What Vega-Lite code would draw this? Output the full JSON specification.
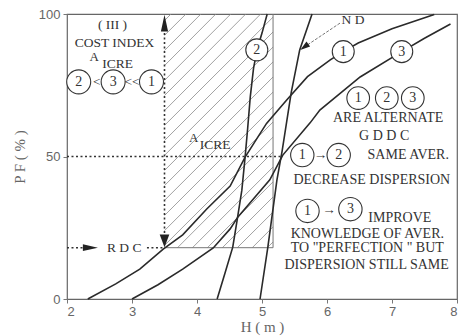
{
  "$schema": "https://vega.github.io/schema/vega-lite/v6.json",
  "width": 390,
  "height": 285,
  "autosize": {"type": "none"},
  "padding": {"left": 67, "top": 14, "right": 1, "bottom": 37},
  "background": "white",
  "config": {
    "view": {"stroke": "#666", "strokeWidth": 1.2},
    "axis": {
      "grid": false,
      "domain": false,
      "tickColor": "#777",
      "tickSize": 4,
      "labelFont": "Liberation Sans",
      "labelFontSize": 13,
      "labelColor": "#666",
      "titleFont": "Liberation Serif",
      "titleFontSize": 15,
      "titleFontWeight": "normal",
      "titleColor": "#666"
    }
  },
  "resolve": {"scale": {"size": "independent", "shape": "independent"}},
  "datasets": {
    "curves": [
      {"curve": "1", "i": 0, "H": 2.32, "PF": 0},
      {"curve": "1", "i": 1, "H": 2.75, "PF": 5.3},
      {"curve": "1", "i": 2, "H": 3.12, "PF": 10.5},
      {"curve": "1", "i": 3, "H": 3.48, "PF": 17.5},
      {"curve": "1", "i": 4, "H": 3.78, "PF": 22.5},
      {"curve": "1", "i": 5, "H": 4.15, "PF": 31.6},
      {"curve": "1", "i": 6, "H": 4.51, "PF": 39.6},
      {"curve": "1", "i": 7, "H": 4.74, "PF": 49.8},
      {"curve": "1", "i": 8, "H": 5.07, "PF": 61.6},
      {"curve": "1", "i": 9, "H": 5.38, "PF": 69.8},
      {"curve": "1", "i": 10, "H": 5.7, "PF": 78},
      {"curve": "1", "i": 11, "H": 6.05, "PF": 83.9},
      {"curve": "1", "i": 12, "H": 6.25, "PF": 86.8},
      {"curve": "1", "i": 13, "H": 6.48, "PF": 89.8},
      {"curve": "1", "i": 14, "H": 7.0, "PF": 94.8},
      {"curve": "1", "i": 15, "H": 7.65, "PF": 99.8},
      {"curve": "3", "i": 0, "H": 3.0, "PF": 0},
      {"curve": "3", "i": 1, "H": 3.4, "PF": 5},
      {"curve": "3", "i": 2, "H": 3.78, "PF": 10.5},
      {"curve": "3", "i": 3, "H": 4.25, "PF": 17.9},
      {"curve": "3", "i": 4, "H": 4.51, "PF": 24.6},
      {"curve": "3", "i": 5, "H": 4.63, "PF": 28.8},
      {"curve": "3", "i": 6, "H": 5.12, "PF": 41.8},
      {"curve": "3", "i": 7, "H": 5.32, "PF": 50.5},
      {"curve": "3", "i": 8, "H": 5.74, "PF": 61.8},
      {"curve": "3", "i": 9, "H": 5.89, "PF": 66.3},
      {"curve": "3", "i": 10, "H": 6.51, "PF": 77.9},
      {"curve": "3", "i": 11, "H": 7.15, "PF": 86.8},
      {"curve": "3", "i": 12, "H": 7.5, "PF": 91.5},
      {"curve": "3", "i": 13, "H": 7.9, "PF": 96.5},
      {"curve": "2", "i": 0, "H": 4.31, "PF": 0},
      {"curve": "2", "i": 1, "H": 4.43, "PF": 9},
      {"curve": "2", "i": 2, "H": 4.55, "PF": 18.2},
      {"curve": "2", "i": 3, "H": 4.62, "PF": 28},
      {"curve": "2", "i": 4, "H": 4.69, "PF": 38.2},
      {"curve": "2", "i": 5, "H": 4.74, "PF": 49.8},
      {"curve": "2", "i": 6, "H": 4.78, "PF": 60},
      {"curve": "2", "i": 7, "H": 4.82, "PF": 71},
      {"curve": "2", "i": 8, "H": 4.87, "PF": 81},
      {"curve": "2", "i": 9, "H": 4.93, "PF": 88},
      {"curve": "2", "i": 10, "H": 5.0, "PF": 93.3},
      {"curve": "2", "i": 11, "H": 5.08, "PF": 100},
      {"curve": "ND", "i": 0, "H": 4.97, "PF": 0},
      {"curve": "ND", "i": 1, "H": 5.09, "PF": 18.2},
      {"curve": "ND", "i": 2, "H": 5.23, "PF": 41.8},
      {"curve": "ND", "i": 3, "H": 5.31, "PF": 52},
      {"curve": "ND", "i": 4, "H": 5.45, "PF": 72.5},
      {"curve": "ND", "i": 5, "H": 5.58, "PF": 87.4},
      {"curve": "ND", "i": 6, "H": 5.77, "PF": 100}
    ],
    "hatch": [
      {"H": 3.5, "PF": 97.7, "H2": 3.6, "PF2": 100},
      {"H": 3.5, "PF": 92.5, "H2": 3.83, "PF2": 100},
      {"H": 3.5, "PF": 87.2, "H2": 4.06, "PF2": 100},
      {"H": 3.5, "PF": 81.9, "H2": 4.29, "PF2": 100},
      {"H": 3.5, "PF": 76.7, "H2": 4.52, "PF2": 100},
      {"H": 3.5, "PF": 71.4, "H2": 4.75, "PF2": 100},
      {"H": 3.5, "PF": 66.1, "H2": 4.98, "PF2": 100},
      {"H": 3.5, "PF": 60.9, "H2": 5.17, "PF2": 98.9},
      {"H": 3.5, "PF": 55.6, "H2": 5.17, "PF2": 93.7},
      {"H": 3.5, "PF": 50.4, "H2": 5.17, "PF2": 88.4},
      {"H": 3.5, "PF": 45.1, "H2": 5.17, "PF2": 83.2},
      {"H": 3.5, "PF": 39.8, "H2": 5.17, "PF2": 77.9},
      {"H": 3.5, "PF": 34.6, "H2": 5.17, "PF2": 72.6},
      {"H": 3.5, "PF": 29.3, "H2": 5.17, "PF2": 67.4},
      {"H": 3.5, "PF": 24.0, "H2": 5.17, "PF2": 62.1},
      {"H": 3.5, "PF": 18.8, "H2": 5.17, "PF2": 56.8},
      {"H": 3.7, "PF": 18, "H2": 5.17, "PF2": 51.6},
      {"H": 3.93, "PF": 18, "H2": 5.17, "PF2": 46.3},
      {"H": 4.16, "PF": 18, "H2": 5.17, "PF2": 41.1},
      {"H": 4.39, "PF": 18, "H2": 5.17, "PF2": 35.8},
      {"H": 4.62, "PF": 18, "H2": 5.17, "PF2": 30.5},
      {"H": 4.85, "PF": 18, "H2": 5.17, "PF2": 25.3},
      {"H": 5.08, "PF": 18, "H2": 5.17, "PF2": 20.0}
    ],
    "box": [
      {"H": 3.5, "PF": 18, "H2": 5.17, "PF2": 18},
      {"H": 5.17, "PF": 18, "H2": 5.17, "PF2": 100}
    ],
    "dotted": [
      {"H": 2, "PF": 50, "H2": 5.32, "PF2": 50},
      {"H": 2, "PF": 18, "H2": 2.25, "PF2": 18},
      {"H": 3.23, "PF": 18, "H2": 3.5, "PF2": 18},
      {"H": 3.5, "PF": 20, "H2": 3.5, "PF2": 96}
    ],
    "leader": [
      {"H": 6.2, "PF": 96.8, "H2": 5.65, "PF2": 88.4}
    ],
    "heads": [
      {"kind": "up", "H": 3.5, "PF": 96.8},
      {"kind": "down", "H": 3.5, "PF": 20.4},
      {"kind": "right", "H": 2.36, "PF": 18},
      {"kind": "nd", "H": 5.65, "PF": 88.4}
    ],
    "circles": [
      {"g": "curve", "n": "2", "H": 4.92, "PF": 87.4},
      {"g": "curve", "n": "1", "H": 6.25, "PF": 86.8},
      {"g": "curve", "n": "3", "H": 7.15, "PF": 86.8},
      {"g": "list", "n": "1", "H": 6.48, "PF": 70.5},
      {"g": "list", "n": "2", "H": 6.92, "PF": 70.5},
      {"g": "list", "n": "3", "H": 7.32, "PF": 70.5},
      {"g": "pair", "n": "1", "H": 5.62, "PF": 50.5},
      {"g": "pair", "n": "2", "H": 6.18, "PF": 50.5},
      {"g": "pair", "n": "1", "H": 5.7, "PF": 30.9},
      {"g": "pair", "n": "3", "H": 6.36, "PF": 31.5},
      {"g": "cost", "n": "2", "H": 2.18, "PF": 76.2},
      {"g": "cost", "n": "3", "H": 2.71, "PF": 76.2},
      {"g": "cost", "n": "1", "H": 3.3, "PF": 76.2}
    ],
    "notes": [
      {"t": "( III )", "H": 2.7, "PF": 96.1, "role": "mid"},
      {"t": "COST INDEX", "H": 2.73, "PF": 89.8, "role": "mid"},
      {"t": "A", "H": 2.42, "PF": 85.0, "role": "sup"},
      {"t": "ICRE", "H": 2.78, "PF": 82.3, "role": "mid"},
      {"t": "<", "H": 2.46, "PF": 76.2, "role": "mid"},
      {"t": "<<", "H": 3.0, "PF": 76.2, "role": "mid"},
      {"t": "A", "H": 3.95, "PF": 56.5, "role": "sup"},
      {"t": "ICRE", "H": 4.28, "PF": 54.0, "role": "mid"},
      {"t": "N D", "H": 6.4, "PF": 97.9, "role": "mid"},
      {"t": "ARE  ALTERNATE", "H": 6.94, "PF": 63.4, "role": "main"},
      {"t": "G D D C", "H": 6.88, "PF": 57.2, "role": "main"},
      {"t": "→", "H": 5.9, "PF": 50.5, "role": "mid"},
      {"t": "SAME AVER.", "H": 7.25, "PF": 50.5, "role": "main"},
      {"t": "DECREASE DISPERSION", "H": 6.69, "PF": 41.8, "role": "main"},
      {"t": "→", "H": 6.03, "PF": 31.2, "role": "mid"},
      {"t": "IMPROVE", "H": 7.12, "PF": 28.5, "role": "main"},
      {"t": "KNOWLEDGE OF AVER.", "H": 6.62, "PF": 22.7, "role": "main"},
      {"t": "TO \"PERFECTION \" BUT", "H": 6.62, "PF": 17.8, "role": "main"},
      {"t": "DISPERSION  STILL SAME", "H": 6.61, "PF": 11.9, "role": "main"},
      {"t": "R D C", "H": 2.88, "PF": 18.0, "role": "mid"}
    ]
  },
  "encoding": {
    "x": {
      "field": "H",
      "type": "quantitative",
      "scale": {"domain": [2, 8], "nice": false, "zero": false},
      "axis": {"values": [2, 3, 4, 5, 6, 7, 8], "title": "H  ( m )", "labelPadding": 2, "titlePadding": 1}
    },
    "y": {
      "field": "PF",
      "type": "quantitative",
      "scale": {"domain": [0, 100], "nice": false},
      "axis": {"values": [0, 50, 100], "title": "P F  ( % )", "labelPadding": 3, "titlePadding": 11}
    }
  },
  "layer": [
    {
      "data": {"name": "hatch"},
      "mark": {"type": "rule", "color": "#8a8a8a", "strokeWidth": 0.8},
      "encoding": {"x2": {"field": "H2"}, "y2": {"field": "PF2"}}
    },
    {
      "data": {"name": "box"},
      "mark": {"type": "rule", "color": "#777", "strokeWidth": 1},
      "encoding": {"x2": {"field": "H2"}, "y2": {"field": "PF2"}}
    },
    {
      "data": {"name": "dotted"},
      "mark": {"type": "rule", "color": "#333", "strokeWidth": 1.6, "strokeDash": [2, 2.5]},
      "encoding": {"x2": {"field": "H2"}, "y2": {"field": "PF2"}}
    },
    {
      "data": {"name": "leader"},
      "mark": {"type": "rule", "color": "#666", "strokeWidth": 0.9, "strokeDash": [3, 1.5]},
      "encoding": {"x2": {"field": "H2"}, "y2": {"field": "PF2"}}
    },
    {
      "data": {"name": "curves"},
      "mark": {"type": "line", "color": "#2a2a2a", "strokeWidth": 1.6},
      "encoding": {
        "detail": {"field": "curve", "type": "nominal"},
        "order": {"field": "i", "type": "quantitative"}
      }
    },
    {
      "data": {"name": "heads"},
      "mark": {"type": "point", "filled": true, "color": "#222", "opacity": 1, "size": 256},
      "encoding": {
        "shape": {
          "field": "kind",
          "type": "nominal",
          "scale": {
            "domain": ["up", "down", "right", "nd"],
            "range": [
              "M0,-1.05L-0.45,1.05L0.45,1.05Z",
              "M0,0.8L-0.6,-0.8L0.6,-0.8Z",
              "M0.94,0L-0.94,-0.42L-0.94,0.42Z",
              "M-0.5,0.38L0.73,-0.08L0.28,-0.68Z"
            ]
          },
          "legend": null
        }
      }
    },
    {
      "data": {"name": "circles"},
      "mark": {"type": "point", "shape": "circle", "filled": true, "fill": "white", "stroke": "#333", "strokeWidth": 1.1, "opacity": 1},
      "encoding": {
        "size": {
          "field": "g",
          "type": "ordinal",
          "scale": {"domain": ["curve", "list", "pair", "cost"], "range": [484, 576, 361, 225]},
          "legend": null
        }
      }
    },
    {
      "data": {"name": "circles"},
      "mark": {"type": "text", "font": "Liberation Serif", "color": "#333", "align": "center", "baseline": "middle"},
      "encoding": {
        "text": {"field": "n"},
        "size": {
          "field": "g",
          "type": "ordinal",
          "scale": {"domain": ["curve", "list", "pair", "cost"], "range": [14, 14, 13, 12]},
          "legend": null
        }
      }
    },
    {
      "data": {"name": "notes"},
      "mark": {"type": "text", "font": "Liberation Serif", "color": "#333", "align": "center", "baseline": "middle"},
      "encoding": {
        "text": {"field": "t"},
        "size": {
          "field": "role",
          "type": "ordinal",
          "scale": {"domain": ["main", "mid", "sup"], "range": [14, 13, 13]},
          "legend": null
        }
      }
    }
  ]
}
